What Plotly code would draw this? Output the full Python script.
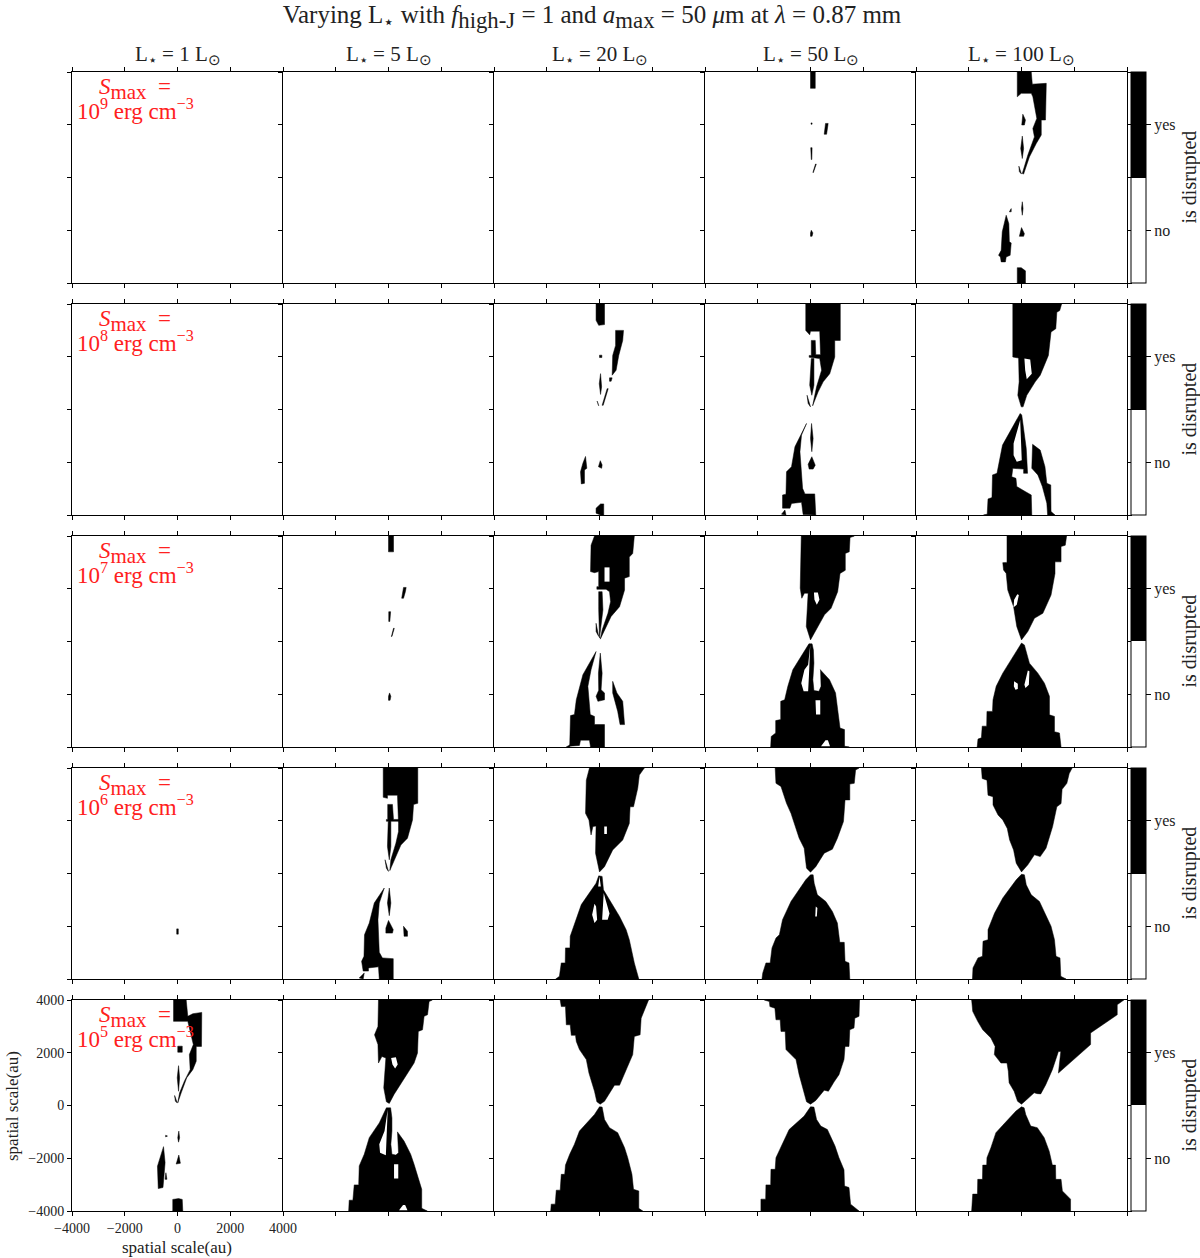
import plotly.graph_objects as go
from plotly.subplots import make_subplots

# Outlines, (x, y) in au. Black = disrupted, holes are painted white on top.

lum_labels = ["L<sub>⋆</sub> = 1 L<sub>⊙</sub>", "L<sub>⋆</sub> = 5 L<sub>⊙</sub>", "L<sub>⋆</sub> = 20 L<sub>⊙</sub>",
              "L<sub>⋆</sub> = 50 L<sub>⊙</sub>", "L<sub>⋆</sub> = 100 L<sub>⊙</sub>"]
smax_exponents = [9, 8, 7, 6, 5]
tick_values = [-4000, -2000, 0, 2000, 4000]
cbar_ticks = [0.25, 0.75]
cbar_labels = ["no", "yes"]

# S_max = 1e9
L50_S9 = [
    [(0, 4000), (180, 4000), (180, 3380), (0, 3380)],
    [(570, 2050), (670, 2050), (610, 1640), (520, 1640)],
    [(20, 2070), (60, 2070), (60, 2020), (20, 2020)],
    [(10, 1130), (60, 1130), (50, 680), (30, 680)],
    [(190, 510), (220, 510), (110, 190), (90, 190)],
    [(30, -2000), (90, -2100), (60, -2230), (0, -2230), (0, -2100)],
]
L100_S9 = [
    [(-160, 4000), (370, 4000), (410, 3540), (940, 3570), (910, 2180), (750, 2180), (750, 1610), (560, 1290), (300, 780),
     (80, 130), (30, 150), (240, 850), (490, 1540), (430, 1860), (580, 2240), (430, 3060), (370, 3190), (-10, 3190), (-160, 3060)],
    [(50, 2400), (150, 2180), (110, 1990), (10, 1990)],
    [(30, 1570), (80, 1100), (30, 720), (-30, 1100)],
    [(-100, 430), (0, 130), (-80, 220)],
    [(30, -920), (60, -1180), (30, -1430), (0, -1180)],
    [(0, -1900), (110, -2130), (80, -2230), (-80, -2230)],
    [(-390, -1180), (-460, -1300), (-390, -1300)],
    [(-580, -1430), (-480, -1750), (-460, -2440), (-390, -2480), (-430, -2950), (-580, -3010), (-610, -3200), (-770, -3200),
     (-800, -3010), (-870, -2950), (-770, -2760), (-730, -2060)],
    [(-160, -3420), (-10, -3420), (150, -3540), (150, -4000), (-160, -4000)],
]

# S_max = 1e8
L20_S8 = [
    [(-130, 4000), (190, 4000), (190, 3220), (-30, 3190), (-130, 3380)],
    [(610, 3000), (910, 3000), (880, 2620), (730, 2050), (630, 1490), (480, 1300), (500, 2050), (610, 2430)],
    [(380, 1200), (480, 1200), (440, 1070), (380, 1070)],
    [(0, 2060), (90, 2060), (90, 1970), (0, 1970)],
    [(40, 1360), (80, 860), (40, 570), (-10, 980)],
    [(290, 790), (330, 790), (140, 160), (100, 160)],
    [(-90, 320), (-30, 140), (-50, 190)],
    [(-530, -1780), (-480, -2230), (-570, -2290), (-570, -2800), (-690, -2820), (-720, -2360), (-630, -2040)],
    [(30, -1940), (100, -2100), (80, -2230), (-40, -2170)],
    [(40, -3580), (160, -3580), (160, -4000), (40, -4000), (-130, -3930), (-130, -3740)],
]
L50_S8 = [
    [(-180, 4000), (1130, 4000), (1130, 2620), (920, 2620), (920, 1990), (730, 1360), (480, 1050), (290, 670), (80, 140),
     (230, 860), (420, 1490), (350, 1930), (-50, 1980), (-50, 2050), (30, 2050), (30, 2620), (180, 2620), (200, 2080),
     (380, 2080), (350, 2970), (0, 2970), (-30, 2830), (-180, 3000)],
    [(30, 1930), (130, 1930), (130, 920), (50, 540), (-30, 920)],
    [(-130, 540), (0, 100), (-90, 230)],
    [(-150, -530), (-590, -1410), (-720, -2170), (-910, -2360), (-930, -3210), (-1060, -3240), (-1060, -3740), (-780, -3740),
     (-720, -3560), (-340, -3520), (-280, -3980), (200, -4000), (160, -3200), (-210, -3200), (-300, -2990), (-400, -1600), (-340, -970)],
    [(-1100, -3970), (-970, -3810), (-930, -4000)],
    [(40, -530), (100, -1100), (50, -1600), (0, -1100)],
    [(50, -1790), (180, -2110), (100, -2260), (-50, -2260), (-90, -2080)],
]
L100_S8 = [
    [(-330, 4000), (-330, 1990), (-110, 1950), (-90, 1050), (-140, 540), (-10, 100), (60, 100), (200, 540), (520, 1050),
     (710, 1300), (1020, 2050), (1120, 2940), (1300, 3060), (1340, 3690), (1450, 3750), (1520, 4000)],
    [(-50, -150), (-720, -1350), (-930, -2420), (-1100, -2480), (-1120, -3340), (-1270, -3390), (-1300, -3970), (-1440, -4000),
     (390, -4000), (370, -3240), (140, -3110), (-180, -2920), (-210, -2610), (-370, -2550), (-330, -2230), (80, -2260),
     (80, -2420), (230, -2420), (180, -1480), (80, -720), (10, -210)],
    [(420, -1320), (710, -1540), (890, -2170), (960, -2800), (1110, -2860), (1120, -3870), (1270, -4000), (990, -4000),
     (960, -3550), (790, -2920), (620, -2480), (390, -2230)],
]
L100_S8_holes = [
    [(110, 1930), (330, 1900), (390, 1360), (200, 1150), (140, 1490)],
    [(-50, -400), (-300, -1290), (-300, -1730), (-180, -1980), (10, -1920), (-10, -1350)],
]

# S_max = 1e7
L5_S7 = [
    [(0, 4000), (190, 4000), (190, 3400), (0, 3400)],
    [(570, 2050), (670, 2050), (640, 1890), (570, 1640), (500, 1640), (540, 1890)],
    [(10, 1130), (80, 1130), (50, 760), (10, 760)],
    [(190, 500), (220, 500), (130, 190), (110, 190)],
    [(40, -1950), (90, -2080), (60, -2230), (0, -2230), (0, -2080)],
]
L20_S7 = [
    [(-190, 4000), (1320, 4000), (1260, 3340), (1130, 3200), (1130, 2460), (950, 2400), (950, 1950), (760, 1320), (440, 950),
     (190, 440), (30, 90), (100, 440), (320, 1070), (420, 1510), (380, 1890), (250, 1980), (-100, 1980), (-100, 2080),
     (-30, 2080), (-30, 2650), (-190, 2610), (-340, 2650), (-320, 3650)],
    [(-30, 1890), (100, 1890), (130, 1200), (60, 690), (0, 130), (-30, 1200)],
    [(-130, 690), (-30, 190), (-130, 380)],
    [(30, -440), (100, -1200), (60, -1830), (190, -1950), (190, -2210), (-60, -2270), (-130, -2080), (-30, -1850), (-40, -1200)],
    [(-130, -380), (-630, -1260), (-880, -2210), (-950, -2770), (-1100, -2810), (-1130, -3970), (-760, -3940), (-720, -3740),
     (-380, -3740), (-340, -4000), (190, -4000), (190, -3150), (-190, -3150), (-190, -2840), (-350, -2770), (-440, -1700), (-320, -1070)],
    [(-1260, -4000), (-1130, -3920), (-1130, -4000)],
    [(500, -1510), (660, -1950), (880, -2270), (950, -3150), (780, -3150), (690, -2650), (500, -1950)],
]
L20_S7_holes = [
    [(190, 2810), (380, 2810), (380, 2270), (190, 2270)],
]
L50_S7 = [
    [(-350, 4000), (-390, 2020), (-330, 1640), (-230, 1830), (-90, 1830), (-140, 1070), (-160, 570), (0, 60), (210, 440),
     (530, 1010), (780, 1260), (1030, 1890), (1120, 2580), (1320, 2700), (1320, 3340), (1470, 3400), (1500, 3940), (1660, 4000)],
    [(-60, -90), (-670, -1070), (-860, -1700), (-980, -2210), (-1130, -2270), (-1130, -2960), (-1320, -3000), (-1320, -3470),
     (-1490, -3600), (-1510, -4000), (1470, -4000), (1290, -3970), (1290, -3340), (1120, -3280), (1030, -2580), (950, -1950),
     (720, -1450), (370, -1070), (380, -1070), (400, -1700), (320, -1890), (130, -1860), (90, -1450), (130, -820), (110, -320), (60, -90)],
]
L50_S7_holes = [
    [(130, 1860), (280, 1860), (340, 1580), (240, 1390), (150, 1580)],
    [(-10, -130), (-90, -880), (-230, -1070), (-350, -1580), (-260, -1890), (-90, -1890), (-60, -1320), (-50, -820)],
    [(190, -2230), (370, -2230), (370, -2770), (210, -2770)],
    [(400, -3970), (570, -3740), (660, -3740), (740, -3970)],
]
L100_S7 = [
    [(-550, 4000), (-550, 3000), (-710, 2990), (-680, 2710), (-580, 2580), (-520, 1950), (-300, 1320), (-180, 570), (0, 60),
     (240, 380), (490, 880), (810, 1070), (1120, 1760), (1270, 2580), (1270, 3020), (1500, 3020), (1500, 3600), (1660, 3650), (1710, 4000)],
    [(0, -60), (-710, -1200), (-960, -1700), (-1080, -2210), (-1100, -2650), (-1310, -2650), (-1320, -3210), (-1490, -3210),
     (-1520, -3650), (-1650, -3700), (-1680, -4000), (1500, -4000), (1440, -3470), (1250, -3420), (1250, -2840), (1060, -2780),
     (1060, -2080), (870, -1580), (620, -1200), (300, -820), (110, -130)],
]
L100_S7_holes = [
    [(-160, 1790), (-100, 1760), (-180, 1390), (-300, 1300), (-280, 1580)],
    [(-280, -1510), (-140, -1600), (-140, -1800), (-230, -1830), (-290, -1700)],
    [(240, -1100), (300, -1130), (280, -1640), (150, -1760), (110, -1640)],
]

# S_max = 1e6
L1_S6 = [
    [(-30, -2100), (30, -2100), (30, -2300), (-30, -2300)],
]
L5_S6 = [
    [(-200, 4000), (1110, 4000), (1110, 2660), (950, 2620), (910, 2030), (720, 1340), (470, 1080), (210, 520), (50, 110),
     (90, 520), (280, 1150), (380, 1590), (380, 1900), (340, 2970), (-40, 2970), (-40, 2850), (-200, 2890)],
    [(-30, 2620), (150, 2620), (190, 2050), (380, 2050), (380, 1980), (90, 1980), (90, 1020), (30, 520), (-40, 1020),
     (-10, 1980), (-80, 1980), (-80, 2050), (-30, 2050)],
    [(-130, 520), (0, 80), (-80, 200)],
    [(30, -550), (90, -1120), (30, -1600), (-40, -1120)],
    [(0, -1780), (180, -2130), (150, -2260), (-100, -2260), (-100, -2070)],
    [(-160, -550), (-540, -1120), (-730, -1880), (-910, -2320), (-930, -3140), (-1020, -3330), (-960, -3700), (-760, -3700),
     (-760, -3580), (-380, -3540), (-350, -4000), (180, -4000), (180, -3230), (-230, -3200), (-350, -2990), (-400, -1750), (-350, -1120)],
    [(-1110, -3960), (-920, -3770), (-960, -4000)],
    [(570, -2000), (720, -2190), (720, -2380), (590, -2380)],
]
L20_S6 = [
    [(-380, 4000), (-500, 3540), (-530, 2280), (-400, 2030), (-320, 1460), (-250, 1780), (-130, 1800), (-150, 770), (0, 60),
     (190, 260), (500, 890), (880, 1270), (1130, 1900), (1160, 2530), (1290, 2530), (1450, 3230), (1510, 3730), (1700, 4000)],
    [(-30, -90), (-130, -370), (-690, -1180), (-950, -1880), (-1110, -2380), (-1120, -2820), (-1290, -2820), (-1300, -3390),
     (-1450, -3390), (-1520, -3900), (-1660, -4000), (1490, -4000), (1320, -3390), (1130, -2510), (1010, -2130), (760, -1630),
     (380, -1000), (150, -620), (100, -110)],
]
L20_S6_holes = [
    [(180, 1780), (280, 1780), (280, 1500), (180, 1500)],
    [(-190, -1150), (-280, -1560), (-190, -1880), (-90, -1750), (-130, -1250)],
    [(160, -740), (100, -1750), (310, -1750), (380, -1520), (250, -1060)],
    [(0, -110), (50, -490), (-50, -490)],
]
L50_S6 = [
    [(-1340, 4000), (-1310, 3420), (-1120, 3300), (-910, 2660), (-740, 2280), (-430, 1340), (-240, 960), (-150, 200), (0, 50),
     (200, 260), (520, 770), (830, 920), (1020, 1340), (1250, 1970), (1310, 2790), (1490, 2790), (1490, 3390), (1660, 3420), (1710, 3920), (1840, 4000)],
    [(0, -50), (-180, -240), (-740, -1060), (-1060, -1750), (-1180, -2320), (-1310, -2450), (-1460, -2820), (-1530, -3390),
     (-1690, -3390), (-1810, -3770), (-1840, -4000), (1490, -4000), (1460, -3390), (1310, -3330), (1280, -2610), (1110, -2610),
     (1020, -1880), (830, -1440), (580, -1060), (260, -810), (140, -370), (100, -50)],
]
L50_S6_holes = [
    [(200, -1250), (260, -1310), (240, -1630), (180, -1630)],
]
L100_S6 = [
    [(-1520, 4000), (-1490, 3600), (-1310, 3540), (-1270, 2970), (-1080, 2910), (-1080, 2600), (-890, 2220), (-710, 2030), (-540, 1710),
     (-450, 1270), (-300, 890), (-200, 390), (0, 60), (240, 330), (490, 710), (710, 640), (930, 960), (1180, 1780), (1340, 2530),
     (1500, 2650), (1540, 3190), (1720, 3420), (1810, 3790), (1920, 4000)],
    [(0, -30), (-200, -240), (-710, -930), (-1020, -1500), (-1270, -2130), (-1270, -2510), (-1460, -2570), (-1480, -3140),
     (-1650, -3200), (-1840, -3580), (-1860, -4000), (1690, -4000), (1490, -3900), (1460, -3200), (1310, -3140), (1250, -2510),
     (1120, -2000), (870, -1500), (680, -1060), (370, -810), (180, -430), (110, -50)],
]

# S_max = 1e5
L1_S5 = [
    [(-150, 4000), (330, 4000), (390, 3380), (580, 3480), (920, 3530), (910, 2240), (710, 2240), (710, 1680), (580, 1360),
     (350, 1050), (140, 480), (10, 100), (80, 480), (260, 920), (480, 1360), (450, 1930), (600, 2310), (390, 3190), (-150, 3190)],
    [(10, 2250), (180, 2250), (180, 2020), (10, 2020)],
    [(40, 1510), (80, 1050), (40, 540), (-10, 1050)],
    [(-110, 380), (-10, 100), (-80, 160)],
    [(50, -970), (80, -1220), (40, -1390), (10, -1220)],
    [(50, -1880), (110, -2190), (-50, -2220), (10, -2040)],
    [(-530, -1560), (-470, -2170), (-550, -3110), (-730, -3150), (-760, -2300), (-620, -1850)],
    [(-440, -2550), (-400, -2800), (-470, -2800)],
    [(-450, -1130), (-380, -1160), (-450, -1190)],
    [(-180, -3560), (40, -3530), (180, -3560), (200, -4000), (-180, -4000)],
]
L5_S5 = [
    [(-380, 4000), (-400, 3000), (-530, 2680), (-400, 2310), (-380, 1610), (-250, 1860), (-100, 1800), (-130, 1170), (-180, 670),
     (-80, 140), (30, 80), (210, 420), (660, 1110), (970, 1610), (1100, 1990), (1130, 2810), (1290, 2870), (1350, 3380),
     (1480, 3440), (1540, 3940), (1660, 4000)],
    [(-80, -90), (-350, -660), (-730, -1220), (-920, -1850), (-1110, -2290), (-1130, -3010), (-1300, -3010), (-1350, -3590),
     (-1490, -3590), (-1510, -4000), (1470, -4000), (1260, -3900), (1260, -3180), (1100, -2610), (970, -2230), (840, -1850),
     (590, -1350), (340, -1000), (380, -1470), (380, -1790), (280, -1880), (130, -1850), (90, -1470), (130, -970), (130, -470),
     (80, -90), (0, -90)],
]
L5_S5_holes = [
    [(100, 1800), (280, 1830), (350, 1550), (250, 1400), (150, 1550)],
    [(-30, -150), (-150, -970), (-350, -1470), (-320, -1790), (-100, -1890), (-80, -1350), (-40, -840)],
    [(210, -2230), (370, -2230), (370, -2770), (210, -2770)],
    [(400, -3970), (550, -3770), (630, -3770), (720, -3970)],
]
L20_S5 = [
    [(-1490, 4000), (-1450, 3750), (-1290, 3750), (-1260, 3060), (-1110, 3060), (-1070, 2660), (-910, 2660), (-880, 2430), (-760, 2120),
     (-500, 1740), (-400, 1230), (-190, 540), (-100, 140), (25, 50), (190, 160), (570, 770), (760, 770), (1070, 1490), (1260, 1930),
     (1320, 2620), (1540, 2680), (1580, 3310), (1760, 3750), (1860, 4000)],
    [(0, -50), (-190, -340), (-760, -970), (-950, -1470), (-1130, -1850), (-1290, -2260), (-1320, -2610), (-1450, -2610), (-1490, -3210),
     (-1640, -3210), (-1680, -3740), (-1830, -3740), (-1850, -4000), (1640, -4000), (1490, -3900), (1490, -3240), (1290, -3180),
     (1230, -2610), (1070, -1980), (950, -1600), (690, -1030), (380, -840), (190, -530), (100, -60)],
]
L50_S5 = [
    [(-1750, 4000), (-1560, 3940), (-1540, 3750), (-1350, 3690), (-1310, 3250), (-1150, 3250), (-1120, 2810), (-960, 2810), (-930, 2120),
     (-800, 2000), (-550, 1740), (-430, 1170), (-240, 480), (-150, 140), (0, 50), (200, 190), (520, 580), (680, 540), (890, 890),
     (1080, 1170), (1270, 1740), (1310, 2240), (1460, 2240), (1490, 2870), (1650, 2940), (1680, 3310), (1840, 3380), (1860, 4000)],
    [(0, -50), (-240, -400), (-810, -910), (-1120, -1600), (-1310, -1980), (-1340, -2420), (-1500, -2420), (-1510, -3010), (-1690, -3010),
     (-1700, -3550), (-1880, -3550), (-1880, -4000), (1840, -4000), (1520, -3740), (1460, -3110), (1290, -3050), (1270, -2440),
     (1080, -1980), (930, -1540), (640, -910), (390, -780), (230, -530), (130, -60)],
]
L100_S5 = [
    [(-1890, 4000), (-1850, 3570), (-1660, 3190), (-1470, 2870), (-1160, 2560), (-1000, 2240), (-1030, 1930), (-780, 1610), (-550, 1610),
     (-500, 1300), (-470, 860), (-280, 540), (-150, 160), (0, 50), (160, 190), (480, 480), (600, 450), (730, 440), (920, 790),
     (1170, 1360), (1400, 2050), (1490, 2050), (1400, 1230), (2050, 1800), (2620, 2310), (2620, 2750), (3060, 3060), (3630, 3440),
     (3630, 3820), (3880, 4000)],
    [(0, -50), (-210, -210), (-720, -760), (-970, -1030), (-1160, -1600), (-1310, -1980), (-1320, -2260), (-1470, -2260), (-1480, -2800),
     (-1660, -2800), (-1670, -3360), (-1850, -3360), (-1890, -4000), (1860, -4000), (1860, -3550), (1550, -3240), (1500, -2800),
     (1300, -2800), (1290, -2260), (1170, -2260), (1050, -1730), (860, -1220), (600, -840), (350, -780), (160, -340), (100, -90)],
]

# row, col -> (black outlines, white holes)
panels = {
    (1, 4): (L50_S9, []), (1, 5): (L100_S9, []),
    (2, 3): (L20_S8, []), (2, 4): (L50_S8, []), (2, 5): (L100_S8, L100_S8_holes),
    (3, 2): (L5_S7, []), (3, 3): (L20_S7, L20_S7_holes), (3, 4): (L50_S7, L50_S7_holes), (3, 5): (L100_S7, L100_S7_holes),
    (4, 1): (L1_S6, []), (4, 2): (L5_S6, []), (4, 3): (L20_S6, L20_S6_holes), (4, 4): (L50_S6, L50_S6_holes), (4, 5): (L100_S6, []),
    (5, 1): (L1_S5, []), (5, 2): (L5_S5, L5_S5_holes), (5, 3): (L20_S5, []), (5, 4): (L50_S5, []), (5, 5): (L100_S5, []),
}

FONT = "Liberation Serif"
INK = "#222222"
PLOT_W = 1055
PLOT_H = 1139
ROW_GAP = 21
ROW_H = 211

def flatten(polys):
    xs = []
    ys = []
    for poly in polys:
        for x, y in poly + poly[:1]:
            xs.append(x)
            ys.append(y)
        xs.append(None)
        ys.append(None)
    return xs, ys

fig = make_subplots(rows=5, cols=5, horizontal_spacing=0, vertical_spacing=ROW_GAP / PLOT_H)

for row in range(1, 6):
    for col in range(1, 6):
        solid, holes = panels.get((row, col), ([], []))
        # every panel gets a trace, otherwise plotly drops the axes of the empty ones
        xs, ys = flatten(solid) if solid else ([None], [None])
        fig.add_trace(go.Scatter(x=xs, y=ys, mode="lines", fill="toself", fillcolor="black",
                                 line=dict(color="black", width=0.5), hoverinfo="skip", showlegend=False), row=row, col=col)
        if holes:
            xs, ys = flatten(holes)
            fig.add_trace(go.Scatter(x=xs, y=ys, mode="lines", fill="toself", fillcolor="white",
                                     line=dict(color="white", width=0), hoverinfo="skip", showlegend=False), row=row, col=col)

# axes, automargin off so the plot area stays where the margins put it
# only the last column mirrors its y axis, the others share a spine with their neighbour
for row in range(1, 6):
    for col in range(1, 6):
        labelled = row == 5 and col == 1
        fig.update_xaxes(row=row, col=col, range=[-4000, 4000], tickmode="array", tickvals=tick_values, automargin=False,
                         ticks="outside", ticklen=4, tickwidth=1, tickcolor="black", showgrid=False, zeroline=False,
                         showline=True, linecolor="black", linewidth=1, mirror="allticks", showticklabels=labelled,
                         tickfont=dict(family=FONT, size=14, color=INK))
        fig.update_yaxes(row=row, col=col, range=[-4000, 4000], tickmode="array", tickvals=tick_values, automargin=False,
                         ticks="outside", ticklen=4, tickwidth=1, tickcolor="black", showgrid=False, zeroline=False,
                         showline=True, linecolor="black", linewidth=1, mirror="allticks" if col == 5 else False,
                         showticklabels=labelled, tickfont=dict(family=FONT, size=14, color=INK))

# axis titles of the bottom left panel
fig.add_annotation(x=105 / PLOT_W, y=-36 / PLOT_H, xref="paper", yref="paper", xanchor="center", yanchor="middle",
                   text="spatial scale(au)", showarrow=False, font=dict(family=FONT, size=17, color=INK))
fig.add_annotation(x=-60 / PLOT_W, y=105 / PLOT_H, xref="paper", yref="paper", xanchor="center", yanchor="middle",
                   text="spatial scale(au)", textangle=-90, showarrow=False, font=dict(family=FONT, size=17, color=INK))

# yes / no colour bar beside each row
for row in range(1, 6):
    top = 1 - (row - 1) * (ROW_H + ROW_GAP) / PLOT_H
    fig.add_trace(go.Scatter(x=[None, None], y=[None, None], mode="markers", hoverinfo="skip", showlegend=False,
                             marker=dict(color=[0, 1], cmin=0, cmax=1,
                                         colorscale=[[0, "white"], [0.5, "white"], [0.5, "black"], [1, "black"]],
                                         colorbar=dict(x=1 + 4 / PLOT_W, xanchor="left", xpad=0, y=top, yanchor="top", ypad=0,
                                                       len=ROW_H / PLOT_H, lenmode="fraction", thickness=15, thicknessmode="pixels",
                                                       tickmode="array", tickvals=cbar_ticks, ticktext=cbar_labels,
                                                       ticks="outside", ticklen=5, tickcolor="black",
                                                       tickfont=dict(family=FONT, size=16, color=INK),
                                                       outlinecolor="black", outlinewidth=1))),
                  row=row, col=5)
    fig.add_annotation(x=1 + 62 / PLOT_W, y=top - ROW_H / PLOT_H / 2, xref="paper", yref="paper", xanchor="center", yanchor="middle",
                       text="is disrupted", textangle=-90, showarrow=False, font=dict(family=FONT, size=20, color=INK))

# column headers
for col, label in enumerate(lum_labels):
    fig.add_annotation(x=(col + 0.5) / 5, y=1, xref="paper", yref="paper", xanchor="center", yanchor="bottom", yshift=2,
                       text=label, showarrow=False, font=dict(family=FONT, size=21, color=INK))

# red S_max labels, top left of the first column
for row, exponent in enumerate(smax_exponents, start=1):
    axis = "" if row == 1 else str((row - 1) * 5 + 1)
    fig.add_annotation(x=-1610, y=3370, xref="x" + axis, yref="y" + axis, xanchor="center", yanchor="middle", showarrow=False,
                       text='<i>S</i><sub><span style="font-size:130%">max</span></sub>  =',
                       font=dict(family=FONT, size=23, color="#ff2020"))
    fig.add_annotation(x=-1610, y=2560, xref="x" + axis, yref="y" + axis, xanchor="center", yanchor="middle", showarrow=False,
                       text="10<sup>%d</sup> erg cm<sup>−3</sup>" % exponent,
                       font=dict(family=FONT, size=23, color="#ff2020"))

fig.update_layout(
    width=1200, height=1258, autosize=False,
    margin=dict(l=72, r=73, t=72, b=47),
    paper_bgcolor="white", plot_bgcolor="white",
    title=dict(text='Varying L<sub>⋆</sub> with <i>f</i><sub><span style="font-size:130%">high-J</span></sub> = 1 and '
                    '<i>a</i><sub><span style="font-size:130%">max</span></sub> = 50 <i>μ</i>m at <i>λ</i> = 0.87 mm',
               x=592 / 1200, xanchor="center", y=1 - 14 / 1258, yanchor="middle",
               font=dict(family=FONT, size=25, color=INK)),
)

# page body has a default 8px margin that would push the figure out of the window
fig.write_html("out.html", config={"displayModeBar": False}, post_script="document.body.style.margin = '0';")
